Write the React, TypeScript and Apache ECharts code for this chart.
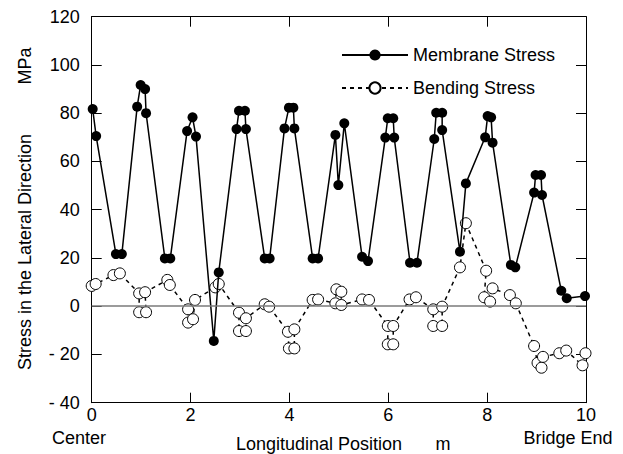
import React, { useEffect, useRef } from "react";
import * as echarts from "echarts";

// Membrane stress (filled circles, solid line): position (m) and stress (MPa)
const membraneX = [0.02, 0.09, 0.49, 0.61, 0.92, 0.99, 1.08, 1.1, 1.48, 1.59, 1.93, 2.04, 2.11, 2.47, 2.57, 2.93, 2.98, 3.1, 3.12, 3.5, 3.6, 3.9, 3.99, 4.08, 4.1, 4.47, 4.58, 4.93, 4.99, 5.11, 5.47, 5.59, 5.94, 5.99, 6.1, 6.12, 6.44, 6.58, 6.93, 6.97, 7.09, 7.09, 7.45, 7.57, 7.96, 8.01, 8.08, 8.11, 8.48, 8.57, 8.95, 8.98, 9.09, 9.11, 9.5, 9.61, 9.98];
const membraneY = [81.7, 70.5, 21.6, 21.6, 82.7, 91.7, 90.0, 80.0, 19.8, 19.8, 72.6, 78.3, 70.3, -14.4, 14.0, 73.4, 81.0, 81.0, 73.4, 19.8, 19.8, 73.7, 82.3, 82.3, 73.7, 19.8, 19.8, 71.0, 50.2, 75.8, 20.5, 18.7, 69.9, 77.9, 77.9, 69.9, 18.0, 18.0, 69.3, 80.2, 80.2, 73.0, 22.6, 50.9, 70.0, 78.8, 78.3, 67.8, 17.1, 16.1, 47.1, 54.4, 54.4, 46.1, 6.4, 3.3, 4.2];

// Bending stress (open circles, dashed line)
const bendingX = [0.0, 0.08, 0.44, 0.57, 0.96, 0.96, 1.1, 1.08, 1.53, 1.58, 1.95, 1.95, 2.05, 2.09, 2.5, 2.57, 2.98, 2.98, 3.12, 3.12, 3.5, 3.59, 3.97, 3.99, 4.1, 4.1, 4.47, 4.58, 4.93, 4.95, 5.05, 5.05, 5.47, 5.61, 5.99, 5.99, 6.1, 6.1, 6.43, 6.56, 6.91, 6.91, 7.09, 7.09, 7.45, 7.57, 7.98, 7.94, 8.06, 8.11, 8.46, 8.58, 8.95, 9.02, 9.1, 9.13, 9.46, 9.6, 9.93, 9.99];
const bendingY = [8.4, 9.2, 12.9, 13.6, 5.3, -2.5, -2.5, 5.8, 10.9, 8.8, -1.3, -6.8, -5.4, 2.6, 7.8, 9.2, -2.7, -10.3, -10.3, -5.0, 0.8, -0.2, -10.6, -17.5, -17.5, -9.6, 2.6, 2.8, 1.2, 7.0, 6.0, 0.5, 2.8, 2.6, -8.2, -15.8, -15.8, -8.2, 2.8, 3.7, -1.3, -8.2, -8.2, -0.2, 16.1, 34.4, 14.7, 3.7, 1.9, 7.4, 4.6, 1.2, -16.5, -23.5, -25.5, -21.0, -19.5, -18.4, -24.5, -19.5];

const seriesNames = ["Membrane Stress", "Bending Stress"];
const xMin = 0, xMax = 10, xStep = 2;
const yMin = -40, yMax = 120, yStep = 20;

const FONT = "'Liberation Sans', Arial, sans-serif";
const FS = 18;

export default function App() {
  const ref = useRef<HTMLDivElement>(null);
  useEffect(() => {
    if (!ref.current) return;
    const chart = echarts.init(ref.current, undefined, { renderer: "svg" });
    const membrane = membraneX.map((x, i) => [x, membraneY[i]]);
    const bending = bendingX.map((x, i) => [x, bendingY[i]]);
    const yLabel = (v: number) => (v < 0 ? "- " + Math.abs(v) : String(v));
    const gridBox = { left: 91.7, right: 37, top: 16.7, bottom: 51.3 };
    const axisLineStyle = { color: "#000", width: 1 };
    const txt = (text: string, x: number, y: number, rotation = 0) => ({
      type: "text",
      x,
      y,
      rotation,
      style: { text, align: "center", verticalAlign: "middle", fontSize: FS, fontFamily: FONT, fill: "#000" },
    });
    chart.setOption({
      animation: false,
      backgroundColor: "#fff",
      textStyle: { fontFamily: FONT },
      grid: gridBox,
      legend: {
        orient: "vertical",
        left: 336,
        top: 41,
        itemWidth: 66,
        itemHeight: 14,
        itemGap: 15,
        data: seriesNames,
        textStyle: { fontSize: FS, color: "#000", fontFamily: FONT },
      },
      xAxis: [
        {
          type: "value",
          min: xMin,
          max: xMax,
          interval: xStep,
          position: "bottom",
          axisLine: { show: true, onZero: false, lineStyle: axisLineStyle },
          axisTick: { show: true, inside: true, length: 10, lineStyle: axisLineStyle },
          axisLabel: { fontSize: FS, lineHeight: 18, color: "#000", fontFamily: FONT, margin: 3 },
          splitLine: { show: false },
        },
        {
          type: "value",
          min: xMin,
          max: xMax,
          interval: xStep,
          position: "top",
          axisLine: { show: true, onZero: false, lineStyle: axisLineStyle },
          axisTick: { show: true, inside: true, length: 10, lineStyle: axisLineStyle },
          axisLabel: { show: false },
          splitLine: { show: false },
        },
      ],
      yAxis: [
        {
          type: "value",
          min: yMin,
          max: yMax,
          interval: yStep,
          position: "left",
          axisLine: { show: true, onZero: false, lineStyle: axisLineStyle },
          axisTick: { show: true, inside: true, length: 10, lineStyle: axisLineStyle },
          axisLabel: { fontSize: FS, color: "#000", fontFamily: FONT, margin: 12, formatter: yLabel },
          splitLine: { show: false },
        },
        {
          type: "value",
          min: yMin,
          max: yMax,
          interval: yStep,
          position: "right",
          axisLine: { show: true, onZero: false, lineStyle: axisLineStyle },
          axisTick: { show: true, inside: true, length: 10, lineStyle: axisLineStyle },
          axisLabel: { show: false },
          splitLine: { show: false },
        },
      ],
      series: [
        {
          name: seriesNames[1],
          type: "line",
          data: bending,
          clip: false,
          z: 2,
          symbol: "circle",
          symbolSize: 11,
          color: "#000",
          lineStyle: { color: "#000", width: 1.5, type: [4, 4] },
          itemStyle: { color: "#fff", borderColor: "#000", borderWidth: 1 },
          markLine: {
            silent: true,
            symbol: "none",
            label: { show: false },
            lineStyle: { color: "#7a7a7a", width: 1.5, type: "solid" },
            data: [{ yAxis: 0 }],
          },
        },
        {
          name: seriesNames[0],
          type: "line",
          data: membrane,
          clip: false,
          z: 3,
          symbol: "circle",
          symbolSize: 10,
          color: "#000",
          lineStyle: { color: "#000", width: 1.5 },
          itemStyle: { color: "#000" },
        },
      ],
      graphic: [
        txt("Center", 79, 438),
        txt("Bridge End", 568, 438),
        txt("Longitudinal Position", 319, 444),
        txt("m", 443, 444),
        txt("Stress in the Lateral Direction", 25, 252, Math.PI / 2),
        txt("MPa", 25, 66, Math.PI / 2),
      ],
    });
    return () => chart.dispose();
  }, []);
  return <div ref={ref} style={{ position: "fixed", left: 0, top: 0, width: 623, height: 454 }} />;
}
